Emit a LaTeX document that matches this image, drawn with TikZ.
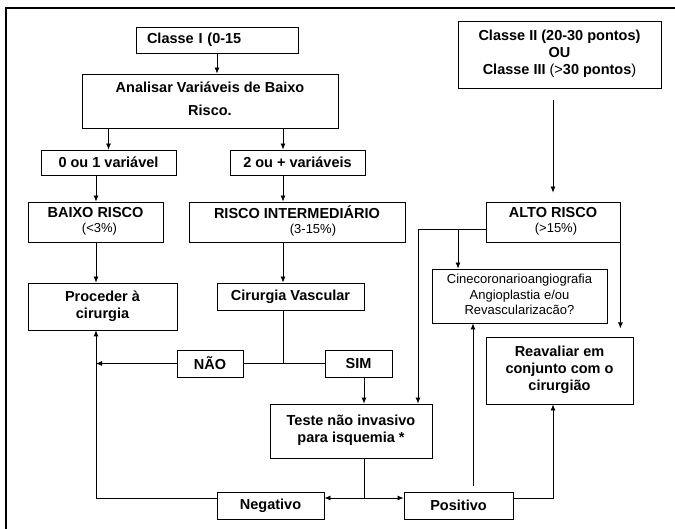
\documentclass[tikz,border=0pt]{standalone}
\usepackage{fontspec}
\setmainfont{Liberation Sans}
\usetikzlibrary{arrows.meta, calc}
\def \bigfont {\fontsize{14.5}{17}\selectfont}
\def \smallfont {\fontsize{13}{15.5}\selectfont}

\begin{document}
\begin{tikzpicture}[x = 1pt, y = -1pt, line width = 0.8pt, >={Latex[length = 6pt, width = 5pt]},
  box/.style = {draw, inner sep = 0pt, font = \bigfont\bfseries}]
\useasboundingbox (0,0) rectangle (675,529);
\draw[line width = 1.2pt] (675,8) -- (6,8) -- (6,529);

% left branch: classe I
\node (classeI) [box, minimum width = 162pt, minimum height = 26pt, text width = 140pt, align = left] at (217,40) {Classe I (0-15};
\node (analisar) [box, minimum width = 256pt, minimum height = 54pt] at (210,101) {\begin{tabular}{c}Analisar Variáveis de Baixo\\[6pt]Risco.\end{tabular}};
\node (umvar) [box, minimum width = 135pt, minimum height = 25pt] at (108.5,162.5) {0 ou 1 variável};
\node (doisvar) [box, minimum width = 135pt, minimum height = 25pt] at (297.5,162.5) {2 ou + variáveis};
\node (baixo) [box, minimum width = 135pt, minimum height = 40pt] at (95.5,222) {\begin{tabular}{c}BAIXO RISCO\\[-2pt]\smallfont\mdseries\hspace{8pt}(<3\%)\end{tabular}};
\node (interm) [box, minimum width = 216pt, minimum height = 40pt] at (297,222) {\begin{tabular}{c}RISCO INTERMEDIÁRIO\\[-2pt]\smallfont\mdseries\hspace{32pt}(3-15\%)\end{tabular}};
\node (proceder) [box, minimum width = 149pt, minimum height = 47pt] at (102.5,306.5) {\begin{tabular}{c}Proceder à\\cirurgia\end{tabular}};
\node (cirvasc) [box, minimum width = 147pt, minimum height = 27pt] at (290.5,296.5) {Cirurgia Vascular};
\node (nao) [box, minimum width = 66pt, minimum height = 27pt] at (210,363.5) {NÃO};
\node (sim) [box, minimum width = 67pt, minimum height = 27pt] at (358.5,363.5) {SIM};
\node (teste) [box, minimum width = 162pt, minimum height = 54pt] at (351,431) {\begin{tabular}{c}Teste não invasivo\\para isquemia *\end{tabular}};
\node (negativo) [box, minimum width = 107pt, minimum height = 27pt] at (270.5,505.5) {Negativo};
\node (positivo) [box, minimum width = 109pt, minimum height = 27pt] at (458.5,505.5) {Positivo};

% right branch: classe II / III
\node (classeII) [box, minimum width = 203pt, minimum height = 67pt] at (559.5,54.5) {\begin{tabular}{c}Classe II (20-30 pontos)\\OU\\Classe III {\mdseries(>}30 pontos{\mdseries)}\end{tabular}};
\node (alto) [box, minimum width = 134pt, minimum height = 40pt] at (553,222) {\begin{tabular}{c}ALTO RISCO\\[-2pt]\smallfont\mdseries\hspace{6pt}(>15\%)\end{tabular}};
\node (cineco) [box, font = \smallfont, minimum width = 175pt, minimum height = 54pt] at (519.5,296) {\begin{tabular}{c}Cinecoronarioangiografia\\Angioplastia e/ou\\Revascularizacão?\end{tabular}};
\node (reaval) [box, minimum width = 147pt, minimum height = 67pt] at (559.5,370.5) {\begin{tabular}{c}Reavaliar em\\conjunto com o\\cirurgião\end{tabular}};

\coordinate (colA) at (96,0);
\coordinate (colB) at (283,0);
\coordinate (colC) at (364,0);
\coordinate (colD) at (553,0);
\coordinate (colE) at (418,0);
\coordinate (colF) at (458,0);

\draw[->] (classeI.south) -- (classeI.south |- analisar.north);
\draw[->] (umvar.north |- analisar.south) -- (umvar.north);
\draw[->] (colB |- analisar.south) -- (colB |- doisvar.north);
\draw[->] (colA |- umvar.south) -- (colA |- baixo.north);
\draw[->] (colB |- doisvar.south) -- (colB |- interm.north);
\draw[->] (colA |- baixo.south) -- (colA |- proceder.north);
\draw[->] (colB |- interm.south) -- (colB |- cirvasc.north);

\coordinate (jointV) at (colB |- nao.east);
\draw (colB |- cirvasc.south) -- (jointV);
\draw (nao.east) -- (sim.west);
\draw[->] (nao.west) -- (colA |- nao.west);
\draw[->] (colC |- sim.south) -- (colC |- teste.north);

\coordinate (jointT) at ($(colC |- negativo.east) + (0,-7.5)$);
\draw (colC |- teste.south) -- (jointT);
\draw[->] (jointT) -- (jointT -| negativo.east);
\draw[->] (jointT) -- (jointT -| positivo.west);
\draw[->] (jointT -| negativo.west) -| (colA |- proceder.south);
\draw[->] (jointT -| positivo.east) -| (colD |- reaval.south);

\coordinate (cinecoFoot) at (473,486);
\draw[->] (cinecoFoot) -- (cinecoFoot |- cineco.south);

\coordinate (altoWest) at ($(alto.west) + (0,7)$);
\draw[->] (altoWest) -| (colE |- teste.north);
\draw[->] (altoWest -| colF) -- (colF |- cineco.north);
\coordinate (altoTip) at ($(alto.south east) + (0,86)$);
\draw[->] (alto.south east) -- (altoTip);

\coordinate (classeIIfoot) at (colD |- 0,100);
\coordinate (altoHead) at ($(alto.north) + (0,-9)$);
\draw[->] (classeIIfoot) -- (altoHead);

\end{tikzpicture}
\end{document}
